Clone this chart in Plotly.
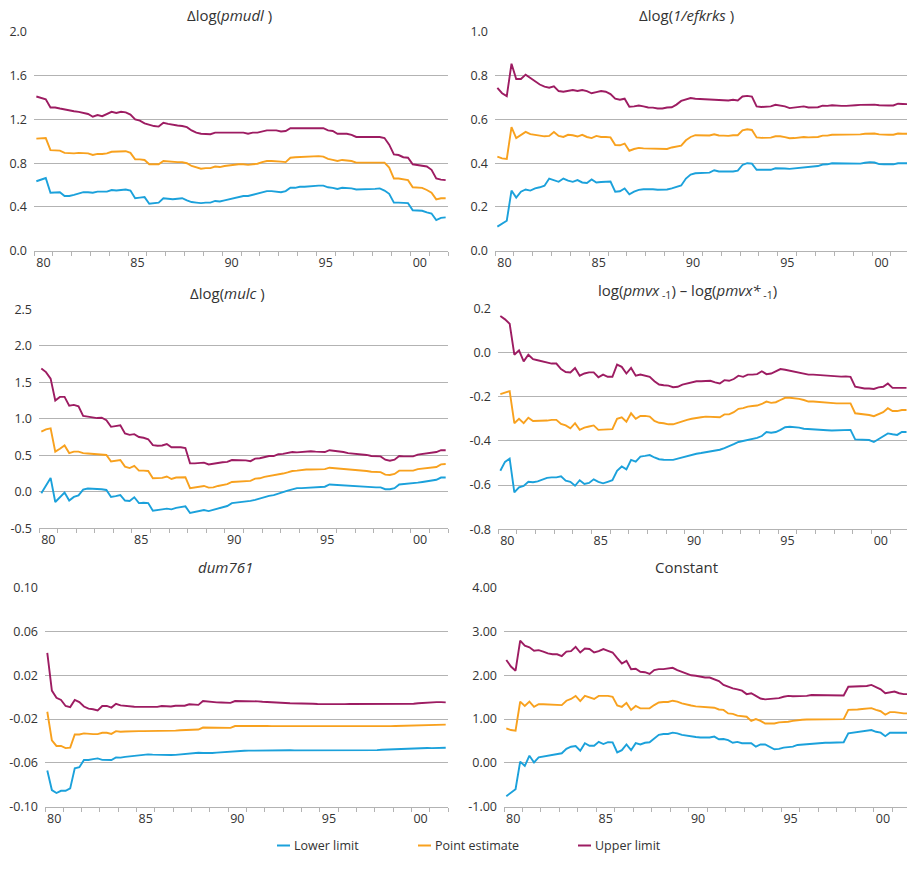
import plotly.graph_objects as go

W, H = 907, 878

# ---------------- data (quarterly, 1980Q1 .. 2001Q4) ----------------
start_year = 1980
year_ticks = [1980, 1985, 1990, 1995, 2000]
year_tick_labels = ["80", "85", "90", "95", "00"]

pmudl_lower = [0.635, 0.65, 0.665, 0.53, 0.53, 0.535, 0.50, 0.50, 0.51, 0.52,
               0.535, 0.535, 0.53, 0.54, 0.54, 0.54, 0.555, 0.55, 0.555, 0.56,
               0.55, 0.48, 0.485, 0.49, 0.43, 0.435, 0.44, 0.48, 0.475, 0.47,
               0.475, 0.48, 0.46, 0.445, 0.44, 0.435, 0.44, 0.44, 0.455, 0.45,
               0.46, 0.47, 0.48, 0.495, 0.50, 0.50, 0.51, 0.52, 0.535, 0.545,
               0.545, 0.54, 0.535, 0.545, 0.575, 0.575, 0.585, 0.585, 0.59, 0.59,
               0.595, 0.595, 0.58, 0.575, 0.565, 0.575, 0.575, 0.57, 0.56, 0.56,
               0.565, 0.565, 0.565, 0.57, 0.55, 0.52, 0.44, 0.44, 0.44, 0.435,
               0.37, 0.37, 0.365, 0.35, 0.34, 0.28, 0.30, 0.305]
pmudl_point = [1.025, 1.03, 1.03, 0.92, 0.92, 0.915, 0.895, 0.89, 0.89, 0.895,
               0.895, 0.89, 0.875, 0.885, 0.885, 0.89, 0.905, 0.905, 0.91, 0.91,
               0.895, 0.835, 0.835, 0.83, 0.79, 0.79, 0.79, 0.82, 0.815, 0.81,
               0.81, 0.81, 0.80, 0.775, 0.76, 0.75, 0.755, 0.755, 0.77, 0.765,
               0.775, 0.78, 0.79, 0.79, 0.79, 0.785, 0.79, 0.795, 0.81, 0.82,
               0.82, 0.82, 0.815, 0.81, 0.85, 0.855, 0.858, 0.86, 0.862, 0.863,
               0.865, 0.86, 0.84, 0.83, 0.82, 0.83, 0.825, 0.82, 0.805, 0.805,
               0.805, 0.805, 0.81, 0.81, 0.805, 0.76, 0.66, 0.66, 0.65, 0.645,
               0.58, 0.58, 0.575, 0.555, 0.53, 0.47, 0.48, 0.48]
pmudl_upper = [1.41, 1.40, 1.385, 1.31, 1.31, 1.30, 1.29, 1.285, 1.275, 1.27,
               1.26, 1.25, 1.225, 1.24, 1.23, 1.25, 1.27, 1.26, 1.27, 1.265,
               1.245, 1.20, 1.19, 1.165, 1.15, 1.14, 1.135, 1.17, 1.16, 1.15,
               1.145, 1.14, 1.13, 1.10, 1.08, 1.07, 1.07, 1.065, 1.08, 1.08,
               1.085, 1.08, 1.085, 1.08, 1.08, 1.07, 1.08, 1.08, 1.09, 1.10,
               1.10, 1.10, 1.09, 1.095, 1.12, 1.12, 1.12, 1.125, 1.125, 1.125,
               1.125, 1.12, 1.10, 1.095, 1.07, 1.07, 1.07, 1.06, 1.04, 1.04,
               1.04, 1.04, 1.04, 1.04, 1.03, 0.97, 0.88, 0.875, 0.855, 0.85,
               0.79, 0.785, 0.78, 0.77, 0.74, 0.66, 0.65, 0.645]

efkrks_lower = [0.11, 0.125, 0.137, 0.275, 0.243, 0.27, 0.28, 0.275, 0.285, 0.29,
                0.297, 0.33, 0.322, 0.315, 0.33, 0.32, 0.315, 0.323, 0.312, 0.31,
                0.326, 0.312, 0.314, 0.316, 0.316, 0.27, 0.272, 0.285, 0.258, 0.27,
                0.278, 0.281, 0.282, 0.281, 0.279, 0.279, 0.28, 0.285, 0.29, 0.298,
                0.33, 0.348, 0.354, 0.355, 0.356, 0.357, 0.368, 0.362, 0.362, 0.362,
                0.362, 0.366, 0.392, 0.4, 0.398, 0.37, 0.369, 0.37, 0.37, 0.377,
                0.378, 0.376, 0.374, 0.376, 0.378, 0.382, 0.381, 0.383, 0.387, 0.394,
                0.395, 0.4, 0.4, 0.4, 0.4, 0.4, 0.401, 0.398, 0.402, 0.405,
                0.403, 0.396, 0.395, 0.395, 0.395, 0.4, 0.4, 0.4]
efkrks_point = [0.43, 0.422, 0.42, 0.565, 0.515, 0.53, 0.543, 0.533, 0.53, 0.527,
                0.523, 0.525, 0.543, 0.525, 0.52, 0.53, 0.528, 0.522, 0.53, 0.52,
                0.515, 0.525, 0.52, 0.52, 0.518, 0.483, 0.482, 0.49, 0.457, 0.465,
                0.47, 0.468, 0.467, 0.466, 0.465, 0.464, 0.465, 0.472, 0.475, 0.48,
                0.505, 0.52, 0.528, 0.528, 0.528, 0.527, 0.532, 0.527, 0.526, 0.525,
                0.528, 0.528, 0.55, 0.555, 0.552, 0.518, 0.516, 0.516, 0.517, 0.523,
                0.523, 0.519, 0.514, 0.515, 0.517, 0.52, 0.518, 0.519, 0.52, 0.526,
                0.526, 0.53, 0.53, 0.53, 0.53, 0.531, 0.531, 0.532, 0.535, 0.537,
                0.536, 0.532, 0.53, 0.53, 0.53, 0.536, 0.535, 0.535]
efkrks_upper = [0.745, 0.72, 0.707, 0.855, 0.785, 0.785, 0.805, 0.79, 0.775, 0.76,
                0.75, 0.745, 0.752, 0.73, 0.727, 0.73, 0.735, 0.73, 0.735, 0.73,
                0.72, 0.725, 0.73, 0.727, 0.716, 0.695, 0.69, 0.695, 0.658, 0.66,
                0.664, 0.66, 0.655, 0.654, 0.65, 0.65, 0.655, 0.656, 0.668, 0.685,
                0.69, 0.698, 0.695, 0.694, 0.692, 0.692, 0.691, 0.69, 0.688, 0.687,
                0.69, 0.687, 0.705, 0.708, 0.705, 0.66, 0.657, 0.657, 0.66, 0.667,
                0.665, 0.66, 0.652, 0.654, 0.656, 0.66, 0.655, 0.655, 0.656, 0.663,
                0.662, 0.665, 0.662, 0.662, 0.662, 0.662, 0.665, 0.667, 0.668, 0.668,
                0.668, 0.665, 0.663, 0.664, 0.664, 0.672, 0.671, 0.67]

mulc_lower = [-0.02, 0.09, 0.19, -0.14, -0.08, -0.01, -0.12, -0.07, -0.05, 0.03,
              0.045, 0.045, 0.035, 0.035, 0.025, -0.07, -0.06, -0.045, -0.12, -0.125,
              -0.075, -0.155, -0.15, -0.155, -0.26, -0.255, -0.24, -0.23, -0.24, -0.22,
              -0.205, -0.2, -0.29, -0.28, -0.265, -0.25, -0.265, -0.25, -0.23, -0.21,
              -0.195, -0.155, -0.15, -0.145, -0.135, -0.125, -0.11, -0.09, -0.075, -0.055,
              -0.045, -0.03, -0.005, 0.015, 0.03, 0.05, 0.05, 0.055, 0.06, 0.065,
              0.07, 0.07, 0.10, 0.095, 0.09, 0.085, 0.08, 0.08, 0.075, 0.07,
              0.065, 0.065, 0.06, 0.06, 0.035, 0.035, 0.05, 0.10, 0.105, 0.105,
              0.11, 0.125, 0.135, 0.145, 0.155, 0.165, 0.195, 0.195]
mulc_point = [0.825, 0.855, 0.87, 0.55, 0.59, 0.635, 0.53, 0.55, 0.55, 0.53,
              0.525, 0.52, 0.515, 0.52, 0.505, 0.415, 0.42, 0.435, 0.345, 0.325,
              0.355, 0.29, 0.29, 0.285, 0.185, 0.185, 0.19, 0.21, 0.175, 0.195,
              0.20, 0.20, 0.05, 0.06, 0.07, 0.08, 0.057, 0.06, 0.08, 0.09,
              0.105, 0.135, 0.14, 0.145, 0.15, 0.15, 0.18, 0.185, 0.205, 0.215,
              0.22, 0.24, 0.25, 0.265, 0.285, 0.29, 0.30, 0.305, 0.305, 0.31,
              0.31, 0.31, 0.33, 0.325, 0.32, 0.315, 0.305, 0.305, 0.30, 0.295,
              0.285, 0.275, 0.275, 0.27, 0.235, 0.23, 0.245, 0.29, 0.29, 0.29,
              0.29, 0.31, 0.315, 0.32, 0.33, 0.34, 0.375, 0.38]
mulc_upper = [1.69, 1.64, 1.55, 1.25, 1.30, 1.30, 1.18, 1.19, 1.17, 1.04,
              1.03, 1.02, 1.01, 1.015, 0.98, 0.89, 0.90, 0.91, 0.80, 0.78,
              0.79, 0.75, 0.74, 0.72, 0.64, 0.63, 0.635, 0.655, 0.61, 0.615,
              0.61, 0.60, 0.39, 0.39, 0.395, 0.40, 0.375, 0.38, 0.395, 0.405,
              0.41, 0.435, 0.435, 0.435, 0.43, 0.42, 0.455, 0.46, 0.48, 0.49,
              0.49, 0.515, 0.52, 0.53, 0.545, 0.54, 0.545, 0.555, 0.555, 0.55,
              0.545, 0.545, 0.57, 0.565, 0.555, 0.545, 0.53, 0.525, 0.525, 0.52,
              0.505, 0.49, 0.49, 0.485, 0.44, 0.425, 0.44, 0.49, 0.485, 0.485,
              0.485, 0.51, 0.52, 0.525, 0.54, 0.545, 0.57, 0.57]

pmvx_lower = [-0.535, -0.495, -0.48, -0.633, -0.61, -0.604, -0.585, -0.587, -0.583, -0.575,
              -0.567, -0.565, -0.565, -0.56, -0.58, -0.585, -0.603, -0.578, -0.595, -0.59,
              -0.574, -0.585, -0.592, -0.585, -0.578, -0.535, -0.516, -0.529, -0.486, -0.494,
              -0.471, -0.468, -0.464, -0.475, -0.483, -0.485, -0.486, -0.486, -0.48, -0.474,
              -0.468, -0.462, -0.458, -0.455, -0.451, -0.448, -0.446, -0.44, -0.433, -0.425,
              -0.415, -0.405, -0.4, -0.396, -0.393, -0.386, -0.378, -0.36, -0.363, -0.36,
              -0.35, -0.338, -0.336, -0.337, -0.34, -0.345, -0.347, -0.347, -0.35, -0.351,
              -0.352, -0.353, -0.352, -0.35, -0.35, -0.35, -0.393, -0.394, -0.395, -0.396,
              -0.405, -0.392, -0.38, -0.366, -0.37, -0.373, -0.36, -0.36]
pmvx_point = [-0.188, -0.18, -0.175, -0.32, -0.30, -0.32, -0.295, -0.31, -0.31, -0.31,
              -0.308, -0.305, -0.305, -0.323, -0.33, -0.343, -0.32, -0.35, -0.34, -0.335,
              -0.33, -0.35, -0.348, -0.348, -0.347, -0.30, -0.293, -0.313, -0.275, -0.30,
              -0.287, -0.287, -0.29, -0.31, -0.318, -0.32, -0.325, -0.325, -0.318, -0.31,
              -0.305, -0.3, -0.295, -0.293, -0.29, -0.29, -0.292, -0.293, -0.28, -0.28,
              -0.27, -0.255, -0.252, -0.245, -0.242, -0.24, -0.233, -0.222, -0.228, -0.225,
              -0.215, -0.205, -0.205, -0.207, -0.21, -0.215, -0.222, -0.222, -0.224, -0.225,
              -0.228, -0.23, -0.23, -0.23, -0.23, -0.23, -0.275, -0.277, -0.28, -0.283,
              -0.288, -0.278, -0.27, -0.252, -0.265, -0.265, -0.26, -0.26]
pmvx_upper = [0.165, 0.15, 0.13, -0.01, 0.01, -0.04, -0.01, -0.03, -0.035, -0.04,
              -0.045, -0.05, -0.05, -0.075, -0.088, -0.09, -0.07, -0.105, -0.095, -0.09,
              -0.09, -0.112, -0.10, -0.11, -0.11, -0.055, -0.065, -0.095, -0.07, -0.105,
              -0.10, -0.105, -0.11, -0.13, -0.145, -0.148, -0.15, -0.157, -0.155, -0.145,
              -0.14, -0.135, -0.13, -0.13, -0.13, -0.128, -0.135, -0.14, -0.125, -0.128,
              -0.12, -0.105, -0.11, -0.10, -0.10, -0.098, -0.085, -0.098, -0.095, -0.085,
              -0.075, -0.078, -0.083, -0.087, -0.09, -0.095, -0.1, -0.1, -0.102, -0.102,
              -0.105, -0.108, -0.109, -0.109, -0.108, -0.11, -0.155, -0.16, -0.163, -0.163,
              -0.165, -0.158, -0.155, -0.14, -0.16, -0.16, -0.16, -0.16]

dum761_lower = [-0.067, -0.0848, -0.0875, -0.0855, -0.0855, -0.0833, -0.065, -0.064, -0.0574, -0.0574,
                -0.0565, -0.0559, -0.0572, -0.0574, -0.0574, -0.055, -0.0552, -0.0545, -0.054, -0.0534,
                -0.053, -0.0525, -0.0522, -0.0524, -0.0526, -0.0528, -0.0528, -0.0528, -0.0527, -0.0522,
                -0.0519, -0.0515, -0.051, -0.0507, -0.051, -0.0512, -0.051, -0.0506, -0.0503, -0.05,
                -0.0492, -0.049, -0.049, -0.0489, -0.0488, -0.0487, -0.0486, -0.0485, -0.0484, -0.0483,
                -0.0482, -0.0483, -0.0484, -0.0485, -0.0486, -0.0486, -0.0487, -0.0487, -0.0487, -0.0487,
                -0.0488, -0.0488, -0.0488, -0.0487, -0.0487, -0.0487, -0.0487, -0.0487, -0.0486, -0.0485,
                -0.0485, -0.0484, -0.0483, -0.048, -0.0478, -0.0477, -0.0476, -0.0475, -0.0474, -0.0473,
                -0.0472, -0.047, -0.0466, -0.0464, -0.0465, -0.0464, -0.0462, -0.0461]
dum761_point = [-0.0133, -0.0395, -0.0445, -0.0445, -0.0465, -0.046, -0.034, -0.034, -0.033, -0.0335,
                -0.0337, -0.0337, -0.0325, -0.0325, -0.0335, -0.031, -0.0315, -0.0313, -0.031, -0.031,
                -0.031, -0.031, -0.031, -0.0308, -0.0308, -0.0308, -0.031, -0.031, -0.0305, -0.0302,
                -0.03, -0.0298, -0.0297, -0.0295, -0.0277, -0.0278, -0.028, -0.0283, -0.0283, -0.0282,
                -0.028, -0.0263, -0.0262, -0.0262, -0.0262, -0.0261, -0.026, -0.026, -0.0262, -0.0264,
                -0.0264, -0.0264, -0.0265, -0.0265, -0.0266, -0.0267, -0.0268, -0.0268, -0.0269, -0.0269,
                -0.027, -0.027, -0.027, -0.027, -0.027, -0.027, -0.027, -0.027, -0.027, -0.027,
                -0.0269, -0.0268, -0.0267, -0.0266, -0.0265, -0.0264, -0.0263, -0.0262, -0.026, -0.026,
                -0.026, -0.0255, -0.0255, -0.0252, -0.0251, -0.025, -0.025, -0.025]
dum761_upper = [0.0405, 0.006, -0.0005, -0.0025, -0.008, -0.009, -0.0025, -0.0045, -0.0085, -0.0105,
                -0.011, -0.012, -0.008, -0.008, -0.0095, -0.006, -0.0075, -0.008, -0.0085, -0.0087,
                -0.0088, -0.0088, -0.0088, -0.0088, -0.0088, -0.008, -0.0083, -0.0085, -0.0078, -0.0078,
                -0.0078, -0.0065, -0.0068, -0.007, -0.0035, -0.004, -0.0045, -0.0047, -0.0048, -0.005,
                -0.0052, -0.0035, -0.0035, -0.0037, -0.004, -0.004, -0.0038, -0.0042, -0.0045, -0.005,
                -0.0052, -0.0053, -0.0053, -0.0055, -0.0055, -0.0057, -0.0057, -0.0058, -0.006, -0.0062,
                -0.0063, -0.0062, -0.006, -0.0062, -0.0063, -0.0063, -0.0062, -0.0062, -0.0063, -0.0063,
                -0.0062, -0.0062, -0.006, -0.006, -0.006, -0.006, -0.006, -0.006, -0.006, -0.006,
                -0.006, -0.0055, -0.0052, -0.0045, -0.0045, -0.0045, -0.0045, -0.0047]

const_lower = [-0.76, -0.68, -0.60, 0.03, -0.07, 0.165, 0.01, 0.125, 0.145, 0.165,
               0.18, 0.2, 0.22, 0.32, 0.37, 0.385, 0.28, 0.45, 0.39, 0.39,
               0.48, 0.43, 0.475, 0.47, 0.24, 0.29, 0.42, 0.29, 0.45, 0.42,
               0.46, 0.47, 0.56, 0.64, 0.66, 0.66, 0.69, 0.675, 0.64, 0.62,
               0.60, 0.59, 0.58, 0.58, 0.58, 0.60, 0.54, 0.545, 0.52, 0.46,
               0.48, 0.45, 0.45, 0.45, 0.37, 0.42, 0.42, 0.37, 0.31, 0.32,
               0.35, 0.36, 0.37, 0.41, 0.42, 0.425, 0.43, 0.45, 0.455, 0.46,
               0.46, 0.465, 0.47, 0.47, 0.675, 0.69, 0.71, 0.72, 0.73, 0.75,
               0.71, 0.69, 0.61, 0.69, 0.69, 0.69, 0.69, 0.69]
const_point = [0.79, 0.75, 0.735, 1.40, 1.30, 1.40, 1.28, 1.34, 1.34, 1.335,
               1.335, 1.335, 1.32, 1.42, 1.46, 1.53, 1.41, 1.53, 1.50, 1.46,
               1.53, 1.53, 1.53, 1.51, 1.31, 1.28, 1.37, 1.21, 1.30, 1.245,
               1.245, 1.245, 1.32, 1.38, 1.39, 1.39, 1.42, 1.40, 1.36, 1.33,
               1.31, 1.29, 1.28, 1.27, 1.27, 1.26, 1.22, 1.21, 1.13, 1.12,
               1.08, 1.065, 1.055, 0.96, 1.0, 0.96, 0.90, 0.90, 0.90, 0.925,
               0.93, 0.94, 0.96, 0.98, 0.985, 0.99, 0.99, 0.995, 1.0, 1.0,
               1.0, 1.0, 1.0, 1.0, 1.21, 1.21, 1.22, 1.23, 1.24, 1.25,
               1.21, 1.18, 1.10, 1.16, 1.16, 1.14, 1.13, 1.13]
const_upper = [2.35, 2.2, 2.105, 2.79, 2.675, 2.64, 2.56, 2.575, 2.54, 2.5,
               2.48, 2.48, 2.44, 2.54, 2.55, 2.65, 2.52, 2.61, 2.6, 2.52,
               2.55, 2.6, 2.56, 2.52, 2.39, 2.27, 2.33, 2.14, 2.15, 2.08,
               2.07, 2.03, 2.12, 2.14, 2.14, 2.16, 2.17, 2.12, 2.08, 2.04,
               2.0, 1.99, 1.97, 1.95, 1.95, 1.91, 1.87, 1.78, 1.74, 1.70,
               1.68, 1.65, 1.57, 1.59, 1.53, 1.47, 1.45, 1.455, 1.47, 1.48,
               1.51, 1.53, 1.52, 1.52, 1.525, 1.53, 1.55, 1.55, 1.55, 1.545,
               1.545, 1.54, 1.54, 1.54, 1.74, 1.74, 1.745, 1.75, 1.755, 1.78,
               1.72, 1.68, 1.59, 1.61, 1.63, 1.59, 1.57, 1.57]

# y tick values / labels per panel
p1_yticks = [0.0, 0.4, 0.8, 1.2, 1.6, 2.0]
p1_ylabels = ["0.0", "0.4", "0.8", "1.2", "1.6", "2.0"]
p2_yticks = [0.0, 0.2, 0.4, 0.6, 0.8, 1.0]
p2_ylabels = ["0.0", "0.2", "0.4", "0.6", "0.8", "1.0"]
p3_yticks = [-0.5, 0.0, 0.5, 1.0, 1.5, 2.0, 2.5]
p3_ylabels = ["-0.5", "0.0", "0.5", "1.0", "1.5", "2.0", "2.5"]
p4_yticks = [-0.8, -0.6, -0.4, -0.2, 0.0, 0.2]
p4_ylabels = ["-0.8", "-0.6", "-0.4", "-0.2", "0.0", "0.2"]
p5_yticks = [-0.10, -0.06, -0.02, 0.02, 0.06, 0.10]
p5_ylabels = ["-0.10", "-0.06", "-0.02", "0.02", "0.06", "0.10"]
p6_yticks = [-1.0, 0.0, 1.0, 2.0, 3.0, 4.0]
p6_ylabels = ["-1.00", "0.00", "1.00", "2.00", "3.00", "4.00"]

series_names = ["Lower limit", "Point estimate", "Upper limit"]
colors = ["#1ba1db", "#f8a11e", "#9d1c62"]

# ---------------- layout helpers ----------------
FONT = "Open Sans, Noto Sans, sans-serif"
TXT = "#333333"
GRID = "#b3b3b3"

def px_x(p):
    return p / W

def px_y(p):
    return 1 - p / H

panels = [
    (pmudl_lower, pmudl_point, pmudl_upper, p1_yticks, p1_ylabels, 34, 448, 32, 250.7, 2002.0,
     "\u0394log(<i>pmudl </i>)", 229, 15),
    (efkrks_lower, efkrks_point, efkrks_upper, p2_yticks, p2_ylabels, 495, 907, 32, 250.7, 2001.85,
     "\u0394log(<i>1/efkrks </i>)", 686, 15),
    (mulc_lower, mulc_point, mulc_upper, p3_yticks, p3_ylabels, 39, 448, 309.3, 528.3, 2002.0,
     "\u0394log(<i>mulc </i>)", 227, 293),
    (pmvx_lower, pmvx_point, pmvx_upper, p4_yticks, p4_ylabels, 498, 907, 308.3, 529.3, 2001.9,
     "log(<i>pmvx</i><sub> -1</sub>) \u2013 log(<i>pmvx*</i><sub> -1</sub>)", 687, 291),
    (dum761_lower, dum761_point, dum761_upper, p5_yticks, p5_ylabels, 45, 448, 587.7, 806.7, 2002.0,
     "<i>dum761</i>", 225, 567),
    (const_lower, const_point, const_upper, p6_yticks, p6_ylabels, 504, 907, 587.7, 806.7, 2001.8,
     "Constant", 686, 567),
]

fig = go.Figure()
layout = dict(
    width=W, height=H, margin=dict(l=0, r=0, t=0, b=0, autoexpand=False),
    paper_bgcolor="white", plot_bgcolor="white",
    showlegend=False,
    font=dict(family=FONT, size=12, color=TXT),
)
annotations = []
shapes = []

for i, (lo, pt, up, yt, yl, L, R, T, B, xend, title, tx, ty) in enumerate(panels):
    n = i + 1
    xa = "x" if n == 1 else f"x{n}"
    ya = "y" if n == 1 else f"y{n}"
    for vals, name, col in zip((lo, pt, up), series_names, colors):
        xs = [start_year + 0.125 + 0.25 * k for k in range(len(vals))]
        fig.add_trace(go.Scatter(x=xs, y=vals, mode="lines", name=name,
                                 line=dict(color=col, width=1.9),
                                 xaxis=xa, yaxis=ya, showlegend=False,
                                 hoverinfo="skip"))
    xkey = "xaxis" if n == 1 else f"xaxis{n}"
    ykey = "yaxis" if n == 1 else f"yaxis{n}"
    layout[xkey] = dict(
        domain=[px_x(L), min(px_x(R), 1.0)],
        anchor=ya, range=[start_year, xend],
        tickmode="array",
        tickvals=[y + 0.5 for y in year_ticks],
        ticktext=year_tick_labels,
        ticks="", showgrid=False, zeroline=False,
        showline=True, linecolor=GRID, linewidth=1,
        automargin=False,
        tickfont=dict(family=FONT, size=12.5, color=TXT),
        minor=dict(ticks="outside", ticklen=4, tickwidth=1, tickcolor=GRID,
                   tickmode="linear", tick0=start_year, dtick=1, showgrid=False),
        fixedrange=True,
    )
    layout[ykey] = dict(
        domain=[px_y(B), px_y(T)],
        anchor=xa, range=[yt[0], yt[-1]],
        tickmode="array", tickvals=yt, ticktext=yl,
        ticks="", showgrid=True, gridcolor=GRID, gridwidth=1,
        zeroline=False, showline=False,
        automargin=False,
        tickfont=dict(family=FONT, size=12.5, color=TXT),
        ticklabelstandoff=6,
        fixedrange=True,
    )
    annotations.append(dict(
        text=title, x=px_x(tx), y=px_y(ty), xref="paper", yref="paper",
        xanchor="center", yanchor="middle", showarrow=False,
        font=dict(family=FONT, size=15, color=TXT)))

# manual legend
legend_y = 845.5
legend_items = [(277, 290, 292), (418, 431, 433), (578, 591, 593)]
for (x0, x1, xt), name, col in zip(legend_items, series_names, colors):
    shapes.append(dict(type="line", xref="paper", yref="paper",
                       x0=px_x(x0), x1=px_x(x1), y0=px_y(legend_y), y1=px_y(legend_y),
                       line=dict(color=col, width=2)))
    annotations.append(dict(text=name, x=px_x(xt), y=px_y(legend_y),
                            xref="paper", yref="paper", xanchor="left", yanchor="middle",
                            showarrow=False, font=dict(family=FONT, size=12.5, color=TXT)))

layout["annotations"] = annotations
layout["shapes"] = shapes
fig.update_layout(**layout)

fig.write_html("out.html", config={"displayModeBar": False},
               post_script="document.body.style.margin='0px';document.body.style.overflow='hidden';")
